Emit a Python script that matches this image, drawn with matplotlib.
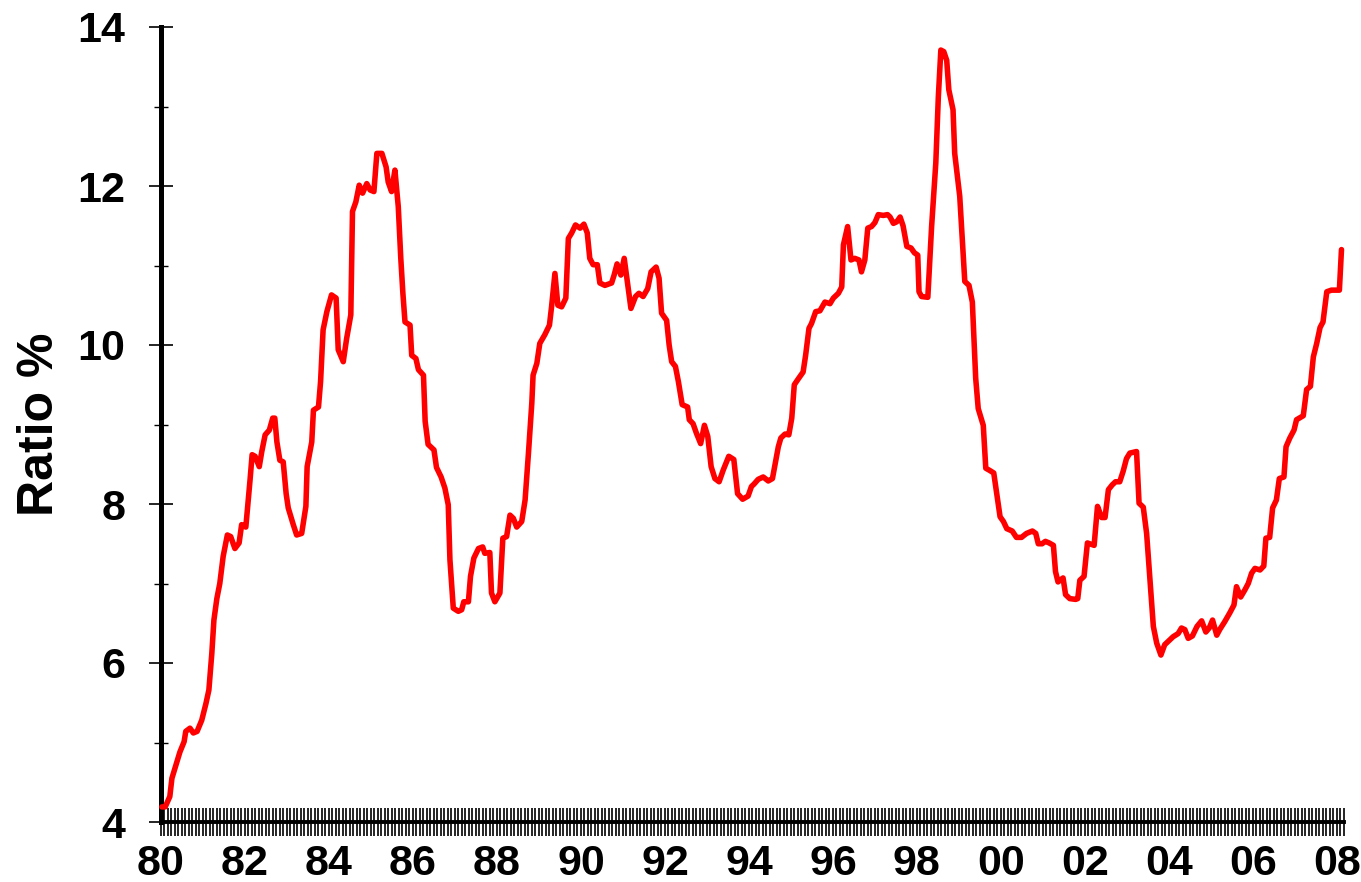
import matplotlib
matplotlib.use("Agg")
import matplotlib.pyplot as plt
from matplotlib.ticker import MultipleLocator, FixedLocator
import numpy as np

# Dates (decimal years) and ratio values
dates = [
    1980.02, 1980.10, 1980.21, 1980.26, 1980.37, 1980.45, 1980.55, 1980.59, 1980.69, 1980.77,
    1980.86, 1980.97, 1981.07, 1981.14, 1981.21, 1981.26, 1981.33, 1981.40, 1981.48, 1981.58,
    1981.66, 1981.76, 1981.86, 1981.92, 1982.02, 1982.12, 1982.17, 1982.24, 1982.34, 1982.40,
    1982.48, 1982.58, 1982.66, 1982.71, 1982.76, 1982.83, 1982.91, 1982.98, 1983.03, 1983.15,
    1983.23, 1983.35, 1983.45, 1983.48, 1983.59, 1983.63, 1983.75, 1983.80, 1983.86, 1983.95,
    1984.06, 1984.17, 1984.22, 1984.34, 1984.42, 1984.52, 1984.56, 1984.64, 1984.72, 1984.80,
    1984.90, 1984.98, 1985.07, 1985.14, 1985.26, 1985.36, 1985.41, 1985.49, 1985.57, 1985.65,
    1985.71, 1985.76, 1985.81, 1985.93, 1985.97, 1986.07, 1986.13, 1986.25, 1986.29, 1986.36,
    1986.50, 1986.56, 1986.67, 1986.76, 1986.84, 1986.88, 1986.96, 1987.08, 1987.16, 1987.21,
    1987.32, 1987.37, 1987.45, 1987.56, 1987.66, 1987.71, 1987.83, 1987.87, 1987.95, 1988.07,
    1988.14, 1988.23, 1988.31, 1988.39, 1988.47, 1988.59, 1988.67, 1988.75, 1988.83, 1988.86,
    1988.95, 1989.02, 1989.14, 1989.25, 1989.30, 1989.38, 1989.45, 1989.54, 1989.64, 1989.70,
    1989.78, 1989.87, 1989.98, 1990.07, 1990.15, 1990.21, 1990.29, 1990.39, 1990.45, 1990.57,
    1990.73, 1990.79, 1990.86, 1990.95, 1991.03, 1991.11, 1991.19, 1991.30, 1991.38, 1991.48,
    1991.59, 1991.67, 1991.79, 1991.86, 1991.92, 1992.04, 1992.10, 1992.16, 1992.25, 1992.32,
    1992.41, 1992.54, 1992.58, 1992.67, 1992.75, 1992.85, 1992.94, 1993.02, 1993.10, 1993.19,
    1993.29, 1993.39, 1993.52, 1993.64, 1993.73, 1993.85, 1993.98, 1994.06, 1994.12, 1994.22,
    1994.34, 1994.46, 1994.56, 1994.62, 1994.70, 1994.76, 1994.86, 1994.95, 1995.02, 1995.08,
    1995.17, 1995.29, 1995.35, 1995.43, 1995.49, 1995.59, 1995.69, 1995.81, 1995.93, 1996.01,
    1996.13, 1996.21, 1996.25, 1996.35, 1996.43, 1996.52, 1996.62, 1996.68, 1996.76, 1996.83,
    1996.92, 1997.00, 1997.08, 1997.20, 1997.30, 1997.36, 1997.44, 1997.52, 1997.60, 1997.67,
    1997.76, 1997.86, 1997.94, 1998.02, 1998.05, 1998.11, 1998.26, 1998.35, 1998.45, 1998.51,
    1998.57, 1998.64, 1998.71, 1998.76, 1998.86, 1998.90, 1999.02, 1999.14, 1999.24, 1999.32,
    1999.40, 1999.46, 1999.58, 1999.64, 1999.74, 1999.83, 1999.90, 1999.98, 2000.06, 2000.14,
    2000.27, 2000.37, 2000.49, 2000.61, 2000.75, 2000.83, 2000.89, 2000.98, 2001.06, 2001.15,
    2001.25, 2001.30, 2001.36, 2001.48, 2001.54, 2001.64, 2001.78, 2001.83, 2001.88, 2001.98,
    2002.06, 2002.22, 2002.30, 2002.40, 2002.48, 2002.56, 2002.65, 2002.73, 2002.83, 2002.91,
    2002.99, 2003.07, 2003.23, 2003.29, 2003.39, 2003.47, 2003.55, 2003.63, 2003.71, 2003.81,
    2003.90, 2004.02, 2004.10, 2004.22, 2004.30, 2004.38, 2004.46, 2004.56, 2004.67, 2004.78,
    2004.88, 2004.96, 2005.04, 2005.14, 2005.21, 2005.33, 2005.45, 2005.55, 2005.61, 2005.71,
    2005.81, 2005.89, 2005.97, 2006.05, 2006.17, 2006.26, 2006.31, 2006.40, 2006.47, 2006.56,
    2006.63, 2006.74, 2006.79, 2006.88, 2006.98, 2007.04, 2007.20, 2007.28, 2007.37, 2007.44,
    2007.52, 2007.60, 2007.67, 2007.76, 2007.87, 2008.06, 2008.11,
]
ratio = [
    4.19, 4.19, 4.32, 4.55, 4.74, 4.88, 5.01, 5.14, 5.18, 5.12,
    5.14, 5.28, 5.49, 5.66, 6.12, 6.54, 6.81, 7.00, 7.34, 7.61,
    7.59, 7.44, 7.51, 7.74, 7.71, 8.30, 8.62, 8.60, 8.47, 8.66,
    8.87, 8.93, 9.08, 9.08, 8.78, 8.55, 8.53, 8.13, 7.95, 7.74,
    7.61, 7.63, 7.97, 8.47, 8.78, 9.18, 9.22, 9.54, 10.19, 10.42,
    10.63, 10.59, 9.94, 9.79, 10.08, 10.38, 11.68, 11.80, 12.01, 11.91,
    12.03, 11.95, 11.93, 12.41, 12.41, 12.24, 12.05, 11.93, 12.20, 11.74,
    11.09, 10.65, 10.29, 10.25, 9.87, 9.83, 9.69, 9.62, 9.04, 8.75,
    8.68, 8.46, 8.34, 8.20, 7.99, 7.30, 6.69, 6.65, 6.67, 6.77,
    6.77, 7.09, 7.32, 7.44, 7.46, 7.38, 7.39, 6.88, 6.77, 6.88,
    7.57, 7.59, 7.86, 7.82, 7.71, 7.78, 8.05, 8.64, 9.27, 9.62,
    9.77, 10.02, 10.13, 10.25, 10.48, 10.90, 10.50, 10.48, 10.59, 11.34,
    11.41, 11.51, 11.47, 11.52, 11.41, 11.09, 11.01, 11.01, 10.78, 10.75,
    10.78, 10.88, 11.02, 10.88, 11.09, 10.78, 10.46, 10.61, 10.65, 10.61,
    10.71, 10.92, 10.98, 10.84, 10.40, 10.31, 10.00, 9.79, 9.73, 9.54,
    9.25, 9.22, 9.06, 9.01, 8.89, 8.76, 8.99, 8.85, 8.47, 8.32,
    8.28, 8.43, 8.60, 8.56, 8.13, 8.06, 8.10, 8.22, 8.25, 8.31,
    8.34, 8.29, 8.32, 8.49, 8.72, 8.83, 8.88, 8.87, 9.08, 9.50,
    9.57, 9.66, 9.87, 10.21, 10.27, 10.42, 10.43, 10.54, 10.52, 10.59,
    10.65, 10.73, 11.26, 11.49, 11.07, 11.09, 11.07, 10.92, 11.07, 11.47,
    11.49, 11.54, 11.64, 11.63, 11.64, 11.61, 11.53, 11.55, 11.61, 11.50,
    11.24, 11.22, 11.16, 11.13, 10.67, 10.61, 10.60, 11.49, 12.29, 13.12,
    13.71, 13.69, 13.58, 13.21, 12.96, 12.41, 11.87, 10.80, 10.75, 10.54,
    9.58, 9.20, 8.99, 8.45, 8.42, 8.39, 8.13, 7.84, 7.78, 7.69,
    7.66, 7.58, 7.58, 7.63, 7.66, 7.63, 7.50, 7.50, 7.53, 7.51,
    7.48, 7.15, 7.02, 7.07, 6.86, 6.81, 6.80, 6.81, 7.04, 7.09,
    7.51, 7.48, 7.97, 7.83, 7.83, 8.18, 8.24, 8.28, 8.28, 8.41,
    8.57, 8.64, 8.66, 8.01, 7.96, 7.63, 7.04, 6.46, 6.25, 6.10,
    6.23, 6.29, 6.33, 6.37, 6.44, 6.42, 6.31, 6.34, 6.46, 6.53,
    6.39, 6.44, 6.54, 6.35, 6.42, 6.52, 6.63, 6.73, 6.96, 6.83,
    6.92, 7.00, 7.13, 7.19, 7.17, 7.22, 7.57, 7.58, 7.95, 8.05,
    8.32, 8.34, 8.72, 8.83, 8.93, 9.06, 9.11, 9.44, 9.48, 9.85,
    10.02, 10.22, 10.29, 10.67, 10.69, 10.69, 11.20,
]

year_ticks = list(range(1980, 2009, 2))
year_labels = [f"{y % 100:02d}" for y in year_ticks]
y_ticks = [4, 6, 8, 10, 12, 14]

plt.rcParams['font.family'] = ['Liberation Sans', 'DejaVu Sans']
plt.rcParams['font.weight'] = 'bold'

W, H = 1361, 882
fig = plt.figure(figsize=(W / 100, H / 100), dpi=100)
ax = fig.add_axes([161 / W, 60 / H, (1344 - 161) / W, (822 - 27) / H])

ax.plot(dates, ratio, color='#FF0000', lw=4.0, solid_joinstyle='round',
        solid_capstyle='round', clip_on=False, zorder=3)

ax.set_xlim(1980, 2008.17)
ax.set_ylim(4, 14)

for s in ['top', 'right']:
    ax.spines[s].set_visible(False)
ax.spines['left'].set_linewidth(3.6)
ax.spines['bottom'].set_linewidth(2.8)

ax.xaxis.set_major_locator(FixedLocator(year_ticks))
ax.set_xticklabels(year_labels)
ax.xaxis.set_minor_locator(MultipleLocator(1 / 12))
ax.tick_params(axis='x', which='both', direction='inout', length=19.5,
               width=1.2, color='black', labelsize=31, pad=6)

ax.yaxis.set_major_locator(FixedLocator(y_ticks))
ax.yaxis.set_minor_locator(MultipleLocator(1))
ax.tick_params(axis='y', which='major', direction='inout', length=17.5,
               width=1.2, labelsize=31, pad=17)
ax.tick_params(axis='y', which='minor', direction='inout', length=9.5, width=1.0)

for lab in ax.get_xticklabels() + ax.get_yticklabels():
    lab.set_fontweight('bold')

ax.set_ylabel('Ratio %', fontsize=36, fontweight='bold', labelpad=10)

fig.savefig('out.png', dpi=100)
